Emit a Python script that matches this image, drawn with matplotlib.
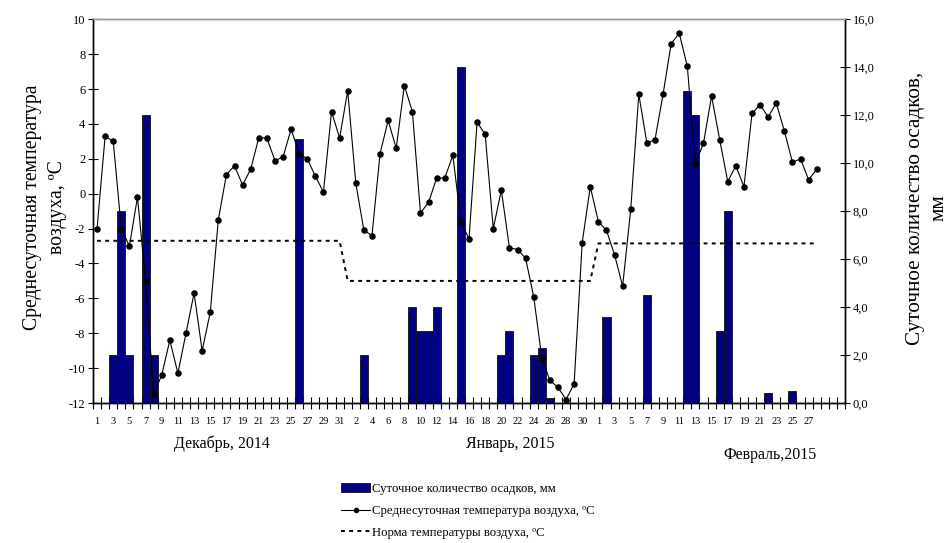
import matplotlib
matplotlib.use("Agg")
import matplotlib.pyplot as plt
import numpy as np
from matplotlib.lines import Line2D
from matplotlib.patches import Patch

plt.rcParams['font.family'] = ['Liberation Serif', 'DejaVu Serif']

# ---- data ----
temp_dec = [-2.0, 3.3, 3.0, -2.0, -3.0, -0.2, -5.0, -11.5, -10.4, -8.4, -10.3, -8.0, -5.7, -9.0, -6.8,
            -1.5, 1.1, 1.6, 0.5, 1.4, 3.2, 3.2, 1.9, 2.1, 3.7, 2.3, 2.0, 1.0, 0.1, 4.7, 3.2]
temp_jan = [5.9, 0.6, -2.1, -2.4, 2.3, 4.2, 2.6, 6.2, 4.7, -1.1, -0.5, 0.9, 0.9, 2.2, -1.6,
            -2.6, 4.1, 3.4, -2.0, 0.2, -3.1, -3.2, -3.7, -5.9, -9.4, -10.7, -11.1, -11.8, -10.9, -2.8, 0.4]
temp_feb = [-1.6, -2.1, -3.5, -5.3, -0.9, 5.7, 2.9, 3.1, 5.7, 8.6, 9.2, 7.3, 1.7, 2.9, 5.6,
            3.1, 0.7, 1.6, 0.4, 4.6, 5.1, 4.4, 5.2, 3.6, 1.8, 2.0, 0.8, 1.4]

prec_dec = [0, 0, 2.0, 8.0, 2.0, 0, 12.0, 2.0, 0, 0, 0, 0, 0, 0, 0,
            0, 0, 0, 0, 0, 0, 0, 0, 0, 0, 11.0, 0, 0, 0, 0, 0]
prec_jan = [0, 0, 2.0, 0, 0, 0, 0, 0, 4.0, 3.0, 3.0, 4.0, 0, 0, 14.0,
            0, 0, 0, 0, 2.0, 3.0, 0, 0, 2.0, 2.3, 0.2, 0, 0, 0, 0, 0]
prec_feb = [0, 3.6, 0, 0, 0, 0, 4.5, 0, 0, 0, 0, 13.0, 12.0, 0, 0,
            3.0, 8.0, 0, 0, 0, 0, 0.4, 0, 0, 0.5, 0, 0, 0]

norm_dec, norm_jan, norm_feb = -2.7, -5.0, -2.85

days_dec = list(range(1, 32))
days_jan = list(range(1, 32))
days_feb = list(range(1, 32))   # Feb slots on the category axis (29-31 empty)

month_labels = ["Декабрь, 2014", "Январь, 2015", "Февраль,2015"]

# ---- build category axis ----
cat_labels = [str(d) for d in days_dec] + [str(d) for d in days_jan] + \
             [str(d) if d <= 28 else "" for d in days_feb]
ncat = len(cat_labels)
temps = temp_dec + temp_jan + temp_feb
precs = prec_dec + prec_jan + prec_feb
norms = [norm_dec] * len(temp_dec) + [norm_jan] * len(temp_jan) + [norm_feb] * len(temp_feb)
x_data = np.arange(len(temps))

fig = plt.figure(figsize=(9.51, 5.43), dpi=100)
ax = fig.add_axes([93/951, 1 - 403/543, (845-93)/951, (403-19.3)/543])
ax2 = ax.twinx()

# bars on primary (drawn below), shown on right
ax.bar(np.arange(len(precs)), precs, width=1.0, color='#000080', edgecolor='#111111', linewidth=0.6, zorder=2)
ax.set_ylim(0, 16)
ax.set_xlim(-0.5, ncat - 0.5)
ax.yaxis.tick_right()
ax.yaxis.set_label_position('right')
ax.set_yticks(np.arange(0, 16.1, 2))
ax.set_yticklabels([f"{v:.1f}".replace('.', ',') for v in np.arange(0, 16.1, 2)])

# temperature on twin (drawn above), shown on left
ax2.plot(x_data, temps, color='black', linewidth=0.8, marker='o', markersize=3.7, zorder=3)
ax2.plot(x_data, norms, color='black', linewidth=1.4, linestyle=(0, (2, 2.2)), zorder=3)
ax2.set_ylim(-12, 10)
ax2.yaxis.tick_left()
ax2.set_yticks(np.arange(-12, 10.1, 2))
ax2.set_yticklabels([str(int(v)) for v in np.arange(-12, 10.1, 2)])
ax2.set_xlim(-0.5, ncat - 0.5)

for a in (ax, ax2):
    a.spines['top'].set_color('#999999')
    a.spines['top'].set_linewidth(1.0)
    a.spines['left'].set_linewidth(1.0)
    a.spines['right'].set_linewidth(1.0)
    a.spines['bottom'].set_linewidth(1.0)

ax.tick_params(axis='y', direction='inout', length=7, width=0.8, labelsize=9, pad=2)
ax2.tick_params(axis='y', direction='inout', length=7, width=0.8, labelsize=9, pad=2)

# x ticks: boundaries as tick marks, labels at every other category
ax.set_xticks(np.arange(-0.5, ncat, 1.0), minor=True)
ax.set_xticks(np.arange(0, ncat, 2))
ax.set_xticklabels([cat_labels[i] for i in range(0, ncat, 2)])
ax.tick_params(axis='x', which='major', length=0, labelsize=7.5, pad=10)
ax.tick_params(axis='x', which='minor', direction='inout', length=8, width=0.8)
ax2.tick_params(axis='x', which='both', length=0, labelbottom=False)

# month labels
fig.text(222/951, 1 - 444/543, month_labels[0], ha='center', va='center', fontsize=11.5)
fig.text(510/951, 1 - 444/543, month_labels[1], ha='center', va='center', fontsize=11.5)
fig.text(770/951, 1 - 455/543, month_labels[2], ha='center', va='center', fontsize=11.5)

# axis titles
fig.text(45/951, 1 - 207/543, "Среднесуточная температура\nвоздуха, ºC", rotation=90,
         ha='center', va='center', fontsize=14.2, linespacing=1.45, multialignment='center')
fig.text(927/951, 1 - 208/543, "Суточное количество осадков,\nмм", rotation=90,
         ha='center', va='center', fontsize=15.3, linespacing=1.35, multialignment='center')

# legend
handles = [Patch(facecolor='#000080', edgecolor='#111111', linewidth=0.6),
           Line2D([], [], color='black', linewidth=0.8, marker='o', markersize=3),
           Line2D([], [], color='black', linewidth=1.4, linestyle=(0, (2, 2.2)))]
labels = ["Суточное количество осадков, мм",
          "Среднесуточная температура воздуха, ºC",
          "Норма температуры воздуха, ºC"]
fig.legend(handles, labels, loc='center', bbox_to_anchor=(468/951, 1 - 511/543),
           frameon=False, fontsize=9.2, handlelength=2.3, handletextpad=0.15,
           labelspacing=0.78, borderaxespad=0, borderpad=0)

fig.savefig("out.png", dpi=100)
